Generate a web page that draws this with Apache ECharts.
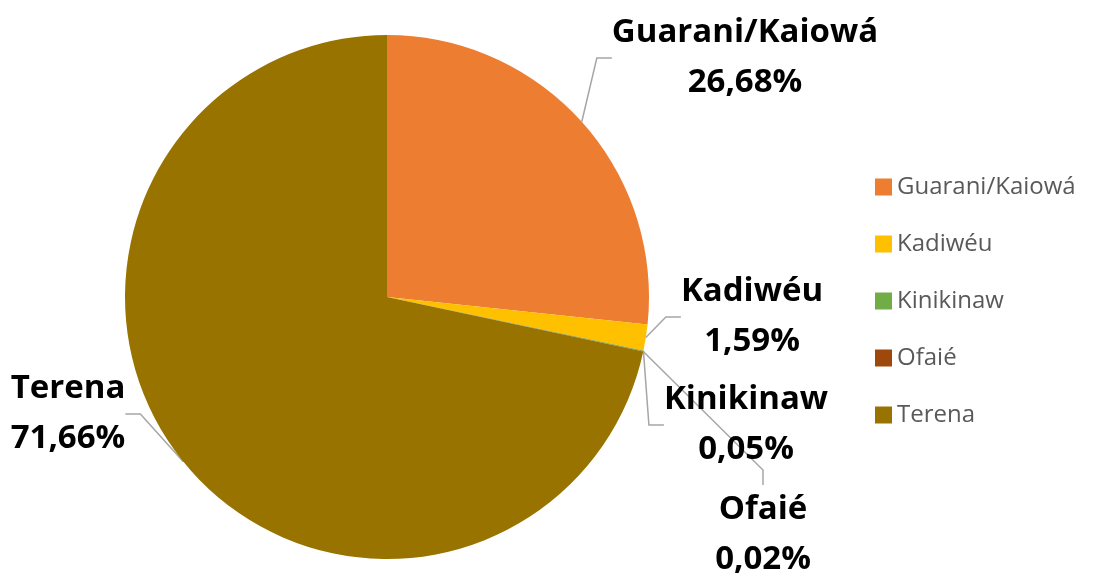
<!DOCTYPE html>
<html>
<head>
<meta charset="utf-8">
<script src="https://cdn.jsdelivr.net/npm/echarts@6/dist/echarts.min.js"></script>
<style>
  html, body { margin: 0; padding: 0; background: #fff; }
  #chart { width: 1093px; height: 576px; }
</style>
</head>
<body>
<div id="chart"></div>
<script>
var names = ['Guarani/Kaiowá', 'Kadiwéu', 'Kinikinaw', 'Ofaié', 'Terena'];
var percents = [26.68, 1.59, 0.05, 0.02, 71.66];
var colors = ['#ED7D31', '#FFC000', '#70AD47', '#9E480E', '#997300'];

// where each data label sits (label centre, px)
var labelPos = [[745, 58], [752, 317], [746, 425], [763, 535], [68, 414]];

var myChart = echarts.init(document.getElementById('chart'));

var data_pie = [];
for (var i = 0; i < names.length; i++) {
    data_pie.push({value: percents[i], name: names[i], itemStyle: {color: colors[i]}});
}

var option = {
    animation: false,
    legend: {
        orient: 'vertical',
        left: 870,
        top: 170,
        itemWidth: 17,
        itemHeight: 17,
        itemGap: 33,
        icon: 'rect',
        data: names,
        textStyle: {
            fontFamily: 'Open Sans',
            fontSize: 24,
            lineHeight: 20,
            color: '#595959'
        }
    },
    series: [
        {
            name: 'Etnias',
            type: 'pie',
            center: [387, 297],
            radius: 262,
            startAngle: 90,
            clockwise: true,
            avoidLabelOverlap: false,
            label: {
                show: true,
                position: 'outside',
                formatter: function(p) {
                    return p.name + '\n' + p.value.toFixed(2).replace('.', ',') + '%';
                },
                fontFamily: 'Open Sans',
                fontWeight: 'bold',
                fontSize: 33,
                lineHeight: 50,
                color: '#000'
            },
            labelLine: {
                show: true,
                length: 15,
                length2: 15,
                lineStyle: {color: '#A6A6A6', width: 1.5}
            },
            labelLayout: function(params) {
                var p = labelPos[params.dataIndex];
                return {
                    x: p[0],
                    y: p[1],
                    align: 'center',
                    verticalAlign: 'middle'
                };
            },
            emphasis: {disabled: true},
            data: data_pie
        }
    ]
};
myChart.setOption(option);
</script>
</body>
</html>
